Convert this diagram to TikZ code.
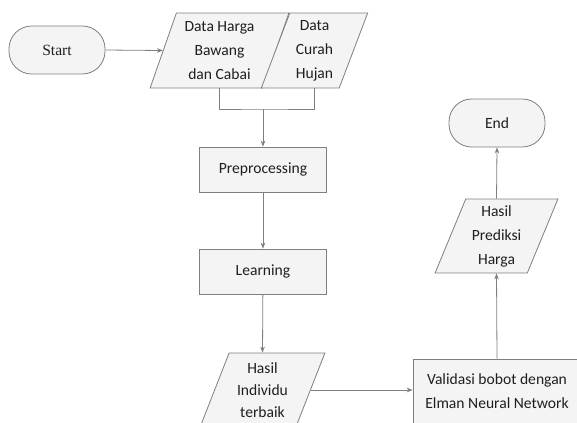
\documentclass[tikz,border=0pt]{standalone}
\usepackage{fontspec}
\setmainfont{Carlito}
\newfontfamily\termfont{Liberation Serif}
\usepackage{xcolor}
\usepackage{tikz}
\usetikzlibrary{arrows.meta, shapes.geometric, positioning}

\definecolor{linegray}{HTML}{7F7F7F}
\definecolor{boxfill}{HTML}{F4F4F4}
\definecolor{txtgray}{HTML}{1F1F1F}

\begin{document}
\begin{tikzpicture}[
    x=0.75pt, y=-0.75pt,
    every node/.style={font=\fontsize{11.7pt}{18pt}\selectfont, text=txtgray},
    terminal/.style={
        rectangle,
        rounded corners=17pt,
        minimum width=72pt,
        minimum height=36pt,
        text centered,
        draw=linegray,
        fill=boxfill,
        line width=0.6pt
    },
    process/.style={
        rectangle,
        minimum width=95.25pt,
        minimum height=33.75pt,
        text centered,
        draw=linegray,
        fill=boxfill,
        line width=0.6pt
    },
    io/.style={
        trapezium,
        trapezium left angle=68,
        trapezium right angle=112,
        trapezium stretches=true,
        minimum height=55.5pt,
        inner sep=1pt,
        align=center,
        draw=linegray,
        fill=boxfill,
        line width=0.6pt
    },
    arrow/.style={draw=linegray, line width=0.6pt, -{Stealth[length=4.5pt,width=3.5pt]}},
    link/.style={draw=linegray, line width=0.6pt}
]
\useasboundingbox (0,0) rectangle (577,422);

\node (start) [terminal] at (57,50) {\termfont Start};

\node (datab) [io, minimum width=104.25pt, minimum height=56.25pt,
    trapezium left angle=70, trapezium right angle=110] at (219.5,50.5)
    {Data Harga\\Bawang\\dan Cabai};

\node (datac) [io, minimum width=80.25pt, minimum height=56.25pt,
    trapezium left angle=70, trapezium right angle=110] at (314.5,50.5)
    {Data\\Curah\\Hujan};

\coordinate (merge) at (263,109);

\node (preproc) [process] at (263,169.5) {Preprocessing};

\node (learn) [process] at (263,271.5) {Learning};

\node (individu) [io, minimum width=93.75pt,
    font=\fontsize{11.7pt}{16.5pt}\selectfont] at (262.5,390)
    {Hasil\\Individu\\terbaik};

\node (validasi) [process, minimum width=126pt, minimum height=48pt, align=center]
    at (497,391) {Validasi bobot dengan\\Elman Neural Network};

\node (prediksi) [io, minimum width=92.25pt] at (496.5,236)
    {Hasil\\Prediksi\\Harga};

\node (end) [terminal] at (497,123) {End};

% Arrows
\draw[arrow] (start.east) -- (datab.west);
\draw[link] (datab.south) |- (merge) -| (datac.south);
\draw[arrow] (merge) -- (preproc.north);
\draw[arrow] (preproc) -- (learn);
\draw[arrow] (learn) -- (individu.north);
\draw[arrow] (individu.east) -- (individu.east -| validasi.west);
\draw[arrow] (validasi.north) -- (prediksi.south);
\draw[arrow] (prediksi.north) -- (end.south);

\end{tikzpicture}
\end{document}
